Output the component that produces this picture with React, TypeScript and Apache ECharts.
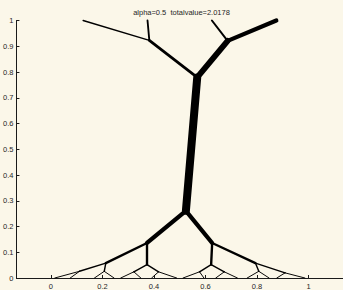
import React, { useEffect, useRef } from "react";
import * as echarts from "echarts";

// Network nodes (data coordinates)
const nodeNames = [
  "S1", "S2", "S3", "S4", "TL", "TR", "C", "B", "L", "R",
  "LO", "LI", "RI", "RO",
  "LOO", "LOI", "LIL", "LIR", "RIL", "RIR", "ROI", "ROO",
  "a1", "a2", "b1", "b2", "c1", "c2", "d1", "d2", "e1", "e2", "f1", "f2", "g1", "g2", "h1", "h2",
];
const nodeX = [
  0.125, 0.375, 0.625, 0.875, 0.382, 0.686, 0.568, 0.524, 0.373, 0.626,
  0.213, 0.373, 0.622, 0.794,
  0.111, 0.207, 0.322, 0.418, 0.577, 0.673, 0.807, 0.909,
  0.015, 0.075, 0.169, 0.245, 0.271, 0.349, 0.391, 0.488, 0.513, 0.594, 0.64, 0.724, 0.762, 0.847, 0.877, 0.986,
];
const nodeY = [
  1, 1, 1, 1, 0.923, 0.921, 0.779, 0.261, 0.136, 0.136,
  0.058, 0.052, 0.052, 0.058,
  0.026, 0.026, 0.024, 0.024, 0.024, 0.024, 0.026, 0.02,
  0, 0, 0, 0, 0, 0, 0, 0, 0, 0, 0, 0, 0, 0, 0, 0,
];
// Edges and the flow each carries
const edgeFrom = [
  "TL", "TL", "TR", "TR", "C", "C", "B", "B", "B",
  "L", "L", "R", "R",
  "LO", "LO", "LI", "LI", "RI", "RI", "RO", "RO",
  "LOO", "LOO", "LOI", "LOI", "LIL", "LIL", "LIR", "LIR",
  "RIL", "RIL", "RIR", "RIR", "ROI", "ROI", "ROO", "ROO",
];
const edgeTo = [
  "S1", "S2", "S3", "S4", "TL", "TR", "C", "L", "R",
  "LO", "LI", "RI", "RO",
  "LOO", "LOI", "LIL", "LIR", "RIL", "RIR", "ROI", "ROO",
  "a1", "a2", "b1", "b2", "c1", "c2", "d1", "d2",
  "e1", "e2", "f1", "f2", "g1", "g2", "h1", "h2",
];
const edgeFlow = [
  0.12, 0.18, 0.2, 0.5, 0.3, 0.7, 1.0, 0.5, 0.5,
  0.25, 0.25, 0.25, 0.25,
  0.125, 0.125, 0.125, 0.125, 0.125, 0.125, 0.125, 0.125,
  0.0625, 0.0625, 0.0625, 0.0625, 0.0625, 0.0625, 0.0625, 0.0625,
  0.0625, 0.0625, 0.0625, 0.0625, 0.0625, 0.0625, 0.0625, 0.0625,
];
const xTicks = [0, 0.2, 0.4, 0.6, 0.8, 1];
const titleText = "alpha=0.5  totalvalue=2.0178";

export default function App() {
  const ref = useRef<HTMLDivElement>(null);
  useEffect(() => {
    if (!ref.current) return;
    const chart = echarts.init(ref.current, null, { renderer: "svg" });
    const idx = (n: string) => nodeNames.indexOf(n);
    const data = edgeFrom.map((f, i) => {
      const a = idx(f);
      const b = idx(edgeTo[i]);
      return [nodeX[a], nodeY[a], nodeX[b], nodeY[b], edgeFlow[i]];
    });
    const axisColor = "#1a1a1a";
    const labelStyle = { color: "#262626", fontSize: 7.5, fontFamily: "Liberation Sans, Arial, sans-serif" };
    chart.setOption({
      animation: false,
      backgroundColor: "#fbf7e9",
      title: {
        text: titleText,
        left: 181.5,
        textAlign: "center",
        top: 8,
        padding: 0,
        textStyle: { fontSize: 7.5, fontWeight: "normal", color: "#262626", fontFamily: "Liberation Sans, Arial, sans-serif" },
      },
      grid: { left: 16, right: -4, top: 20.5, bottom: 8.5, containLabel: false },
      xAxis: {
        type: "value",
        min: -0.134,
        max: 1.134,
        axisLine: { show: true, onZero: false, lineStyle: { color: axisColor, width: 1 } },
        axisTick: { show: true, inside: true, length: 3, customValues: xTicks, lineStyle: { color: axisColor } },
        axisLabel: { show: true, margin: 4, customValues: xTicks, formatter: (v: number) => String(+v.toFixed(1)), ...labelStyle },
        splitLine: { show: false },
      },
      yAxis: {
        type: "value",
        min: 0,
        max: 1,
        interval: 0.1,
        axisLine: { show: true, onZero: false, lineStyle: { color: axisColor, width: 1 } },
        axisTick: { show: true, inside: true, length: 3, lineStyle: { color: axisColor } },
        axisLabel: { show: true, margin: 3, formatter: (v: number) => String(+v.toFixed(1)), ...labelStyle },
        splitLine: { show: false },
      },
      series: [
        {
          type: "custom",
          coordinateSystem: "cartesian2d",
          clip: false,
          encode: { x: [0, 2], y: [1, 3] },
          data,
          renderItem: (params: any, api: any) => {
            const p1 = api.coord([api.value(0), api.value(1)]);
            const p2 = api.coord([api.value(2), api.value(3)]);
            const w = 0.5 + 7.5 * api.value(4);
            return {
              type: "line",
              shape: { x1: p1[0], y1: p1[1], x2: p2[0], y2: p2[1] },
              style: { stroke: "#000", lineWidth: w, lineCap: "round" },
            };
          },
        },
      ],
    });
    return () => chart.dispose();
  }, []);
  return <div ref={ref} style={{ position: "fixed", left: 0, top: 0, width: 343, height: 290 }} />;
}
